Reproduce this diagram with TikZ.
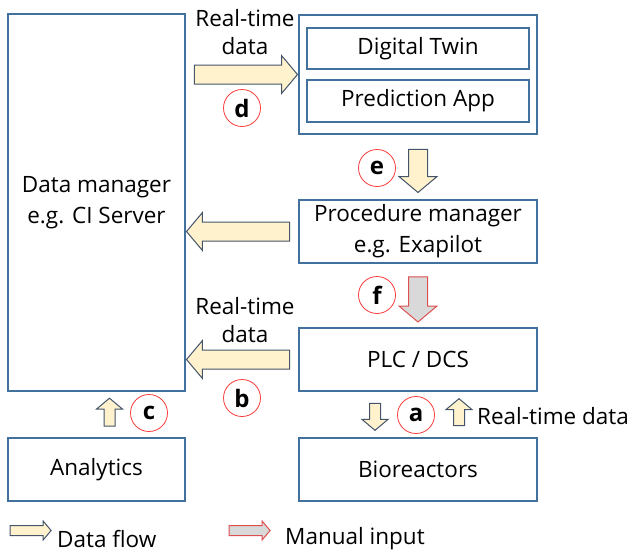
\documentclass[tikz,border=0pt]{standalone}
\usepackage{fontspec}
\setmainfont{Open Sans}
\usetikzlibrary{shapes.arrows,calc}

\definecolor{boxblue}{RGB}{65,113,156}
\definecolor{flowfill}{RGB}{255,242,204}
\definecolor{flowline}{RGB}{68,84,106}
\definecolor{manualfill}{RGB}{217,217,217}
\definecolor{manualline}{RGB}{220,80,80}
\definecolor{markred}{RGB}{250,60,60}

\begin{document}
\begin{tikzpicture}[
x=1pt,y=-1pt,
font=\fontsize{22.5}{31}\selectfont,
box/.style={draw=boxblue,line width=1.2pt,align=center,inner sep=0pt},
label/.style={align=center,inner sep=0pt,font=\fontsize{22.5}{27.5}\selectfont},
bigarrow/.style={single arrow,inner xsep=0pt,inner ysep=9pt,single arrow head extend=9.5pt,single arrow tip angle=100,line width=1pt},
smallarrow/.style={single arrow,inner xsep=0pt,inner ysep=5pt,single arrow head extend=7.5pt,single arrow tip angle=100,line width=1pt},
keyarrow/.style={single arrow,inner xsep=0pt,inner ysep=4.5pt,single arrow head extend=4.5pt,single arrow tip angle=100,line width=1pt,minimum height=41pt},
data/.style={draw=flowline,fill=flowfill},
manual/.style={draw=manualline,fill=manualfill},
stepmark/.style={circle,draw=markred,line width=0.8pt,minimum size=37pt,inner sep=0pt,font=\fontsize{24}{24}\selectfont\bfseries}
]
\useasboundingbox (0,0) rectangle (629,554);

% boxes
\node[box,minimum width=177pt,minimum height=377pt] (dm) at (96.5,202.5) {Data manager\\e.g. CI Server};
\node[box,minimum width=238pt,minimum height=119pt] (twinapp) at (418,74.5) {};
\node[box,minimum width=222pt,minimum height=41pt] (twin) at (418,48.5) {Digital Twin};
\node[box,minimum width=222pt,minimum height=42pt] (app) at (418,101) {Prediction App};
\node[box,minimum width=238pt,minimum height=63pt] (proc) at (418,231.5) {Procedure manager\\e.g. Exapilot};
\node[box,minimum width=238pt,minimum height=63pt] (plc) at (418,359.5) {PLC / DCS};
\node[box,minimum width=177pt,minimum height=63pt] (ana) at (96.5,469.5) {Analytics};
\node[box,minimum width=238pt,minimum height=63pt] (bio) at (418,469.5) {Bioreactors};

% flows between the boxes
\node[bigarrow,data,minimum height=103pt] (fd) at ($(dm.east |- twinapp.west)!0.5!(twinapp.west)$) {};
\node[bigarrow,data,minimum height=103pt,rotate=180] (fp) at ($(dm.east |- proc.west)!0.5!(proc.west)$) {};
\node[bigarrow,data,minimum height=103pt,rotate=180] (fb) at ($(dm.east |- plc.west)!0.5!(plc.west)$) {};
\node[bigarrow,data,minimum height=43pt,rotate=-90] (fe) at ($(twinapp.south)!0.5!(proc.north)$) {};
\node[bigarrow,manual,minimum height=45pt,rotate=-90] (ff) at ($(proc.south)!0.5!(plc.north)$) {};
\node[smallarrow,data,minimum height=28pt,rotate=90] (fc) at ($(dm.south)!0.5!(ana.north)+(13,0)$) {};
\node[smallarrow,data,minimum height=27pt,rotate=-90] (fdown) at ($(plc.south)!0.5!(bio.north)+(-43,0)$) {};
\node[smallarrow,data,minimum height=27pt,rotate=90] (fup) at ($(plc.south)!0.5!(bio.north)+(41,0)$) {};

% labels
\node[label] (ltop) at (245,32) {Real-time\\data};
\node[label] (lmid) at (245,320) {Real-time\\data};
\node[label,anchor=west] (lbio) at (477,416) {Real-time data};

\node[stepmark] (ma) at (416,415) {a};
\node[stepmark] (mb) at (242,398) {b};
\node[stepmark] (mc) at (149,413) {c};
\node[stepmark] (md) at (242,108) {d};
\node[stepmark] (me) at (377,168) {e};
\node[stepmark] (mf) at (377,295) {f};

% legend
\node[keyarrow,data] (kdata) at (28.5,530.5) {};
\node[label,anchor=west] (tdata) at (57,539) {Data flow};
\node[keyarrow,manual] (kmanual) at (247.5,530.5) {};
\node[label,anchor=west] (tmanual) at (285,539) {Manual input};
\end{tikzpicture}
\end{document}
